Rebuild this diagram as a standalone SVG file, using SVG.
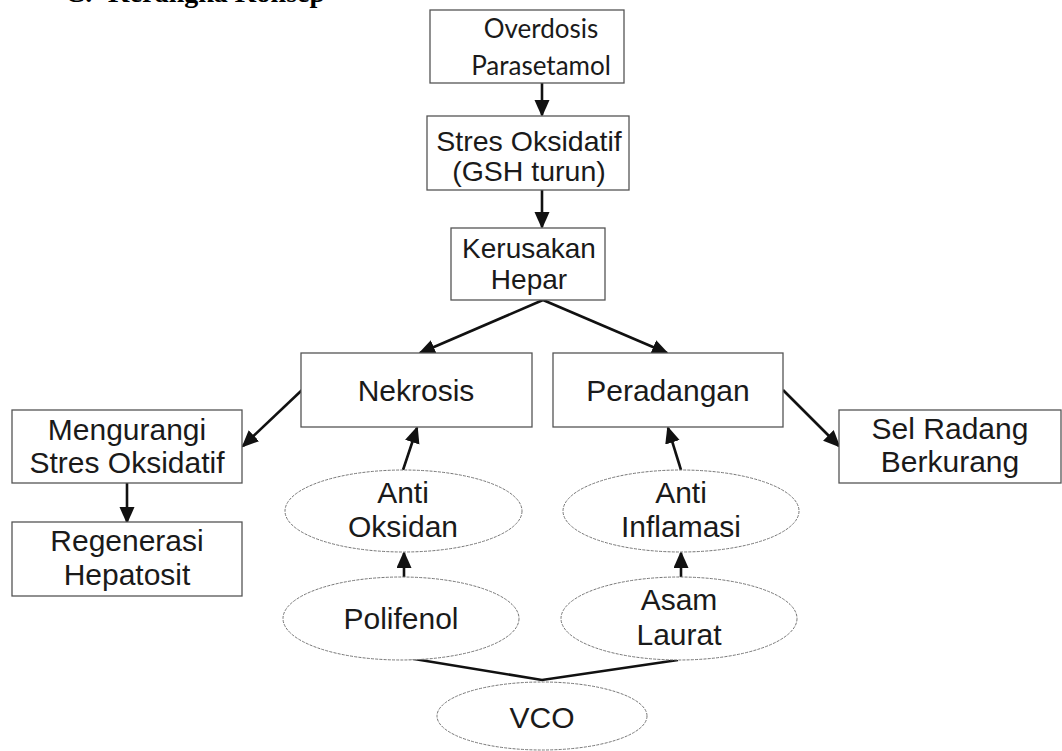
<svg xmlns="http://www.w3.org/2000/svg" width="1062" height="751" viewBox="0 0 1062 751">
<style>
.box{fill:#fff;stroke:#555;stroke-width:1.3}
.ell{fill:#fff;stroke:#777;stroke-width:1;stroke-dasharray:3 1.2}
.t{font-family:"Liberation Sans",Arial,sans-serif;font-size:30px;fill:#1a1a1a;text-anchor:middle}
.ts{font-size:28.5px}
.tk{font-size:28px}
.t2{font-family:Lato,"Open Sans",sans-serif;font-size:26px;fill:#1a1a1a;text-anchor:middle}
.h{font-family:"Liberation Serif","Times New Roman",serif;font-size:28px;font-weight:bold;fill:#000}
.c{fill:none;stroke:#111;stroke-width:2.6}
</style>
<defs>
<marker id="ah" markerUnits="userSpaceOnUse" markerWidth="18" markerHeight="18" refX="15" refY="7.5" orient="auto" viewBox="0 0 18 18">
<path d="M0,0 L17,7.5 L0,15 z" fill="#111"/>
</marker>
</defs>
<rect width="1062" height="751" fill="#fff"/>
<text class="h" x="65" y="2">C.</text>
<text class="h" x="108" y="2">Kerangka Konsep</text>

<g id="connectors">
<line class="c" x1="542" y1="83" x2="542" y2="115" marker-end="url(#ah)"/>
<line class="c" x1="542" y1="190" x2="542" y2="227" marker-end="url(#ah)"/>
<line class="c" x1="543" y1="300" x2="420" y2="353" marker-end="url(#ah)"/>
<line class="c" x1="543" y1="300" x2="667" y2="353" marker-end="url(#ah)"/>
<line class="c" x1="302" y1="390" x2="243" y2="446" marker-end="url(#ah)"/>
<line class="c" x1="783" y1="390" x2="839" y2="446" marker-end="url(#ah)"/>
<line class="c" x1="127" y1="483" x2="127" y2="522" marker-end="url(#ah)"/>
<line class="c" x1="403" y1="470" x2="417" y2="428" marker-end="url(#ah)"/>
<line class="c" x1="681" y1="470" x2="668" y2="428" marker-end="url(#ah)"/>
<line class="c" x1="404" y1="577" x2="404" y2="553" marker-end="url(#ah)"/>
<line class="c" x1="681" y1="577" x2="681" y2="553" marker-end="url(#ah)"/>
<polyline class="c" points="402,657 542,680 678,660"/>
</g>

<g id="overdosis">
<rect class="box" x="430" y="10" width="194" height="73"/>
<text class="t2" x="541" y="38">Overdosis</text>
<text class="t2" x="541" y="75">Parasetamol</text>
</g>
<g id="stres">
<rect class="box" x="427" y="116" width="202" height="74"/>
<text class="t ts" x="529" y="151">Stres Oksidatif</text>
<text class="t ts" x="529" y="181">(GSH turun)</text>
</g>
<g id="kerusakan">
<rect class="box" x="451" y="228" width="154" height="72"/>
<text class="t tk" x="529" y="258">Kerusakan</text>
<text class="t tk" x="529" y="289">Hepar</text>
</g>
<g id="nekrosis">
<rect class="box" x="301" y="353" width="231" height="74"/>
<text class="t" x="416" y="401">Nekrosis</text>
</g>
<g id="peradangan">
<rect class="box" x="553" y="353" width="230" height="74"/>
<text class="t" x="668" y="401">Peradangan</text>
</g>
<g id="mengurangi">
<rect class="box" x="12" y="410" width="230" height="73"/>
<text class="t" x="127" y="440">Mengurangi</text>
<text class="t" x="127" y="473">Stres Oksidatif</text>
</g>
<g id="regenerasi">
<rect class="box" x="12" y="522" width="230" height="74"/>
<text class="t" x="127" y="551">Regenerasi</text>
<text class="t" x="127" y="585">Hepatosit</text>
</g>
<g id="selradang">
<rect class="box" x="839" y="410" width="222" height="73"/>
<text class="t" x="950" y="439">Sel Radang</text>
<text class="t" x="950" y="472">Berkurang</text>
</g>
<g id="antioksidan">
<ellipse class="ell" cx="403.5" cy="511" rx="118.5" ry="41"/>
<text class="t" x="403" y="503">Anti</text>
<text class="t" x="403" y="537">Oksidan</text>
</g>
<g id="antiinflamasi">
<ellipse class="ell" cx="681" cy="511" rx="118" ry="41"/>
<text class="t" x="681" y="503">Anti</text>
<text class="t" x="681" y="537">Inflamasi</text>
</g>
<g id="polifenol">
<ellipse class="ell" cx="401" cy="618.5" rx="118" ry="41.5"/>
<text class="t" x="401" y="629">Polifenol</text>
</g>
<g id="asamlaurat">
<ellipse class="ell" cx="679" cy="618.5" rx="118" ry="41.5"/>
<text class="t" x="679" y="610">Asam</text>
<text class="t" x="679" y="645">Laurat</text>
</g>
<g id="vco">
<ellipse class="ell" cx="542" cy="716" rx="105" ry="34"/>
<text class="t" x="542" y="728">VCO</text>
</g>
</svg>
